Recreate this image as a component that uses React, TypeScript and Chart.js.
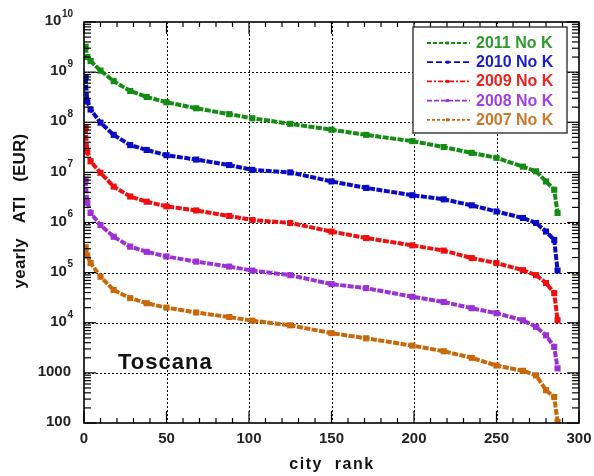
import { useEffect, useRef } from 'react';
import { Chart, registerables } from 'chart.js';

Chart.register(...registerables);

// ---- data ----
const ranks = [1, 2, 4, 10, 18, 28, 38, 50, 68, 88, 102, 125, 150, 171, 199, 218, 235, 250, 266, 274, 280, 285, 287];

const ati2011 = [3.2e9, 2.0e9, 1.66e9, 1.07e9, 6.6e8, 4.2e8, 3.2e8, 2.5e8, 1.9e8, 1.45e8, 1.2e8, 9.3e7, 7.1e7, 5.6e7, 4.2e7, 3.2e7, 2.45e7, 1.95e7, 1.3e7, 1.05e7, 6.6e6, 4.5e6, 1.55e6];
const ati2010 = [7.9e8, 2.6e8, 1.8e8, 9.8e7, 5.6e7, 3.5e7, 2.8e7, 2.2e7, 1.8e7, 1.4e7, 1.12e7, 1.0e7, 6.6e6, 4.9e6, 3.5e6, 2.9e6, 2.2e6, 1.66e6, 1.23e6, 9.8e5, 6.6e5, 4.5e5, 1.1e5];
const ati2009 = [7.9e7, 2.6e7, 1.66e7, 9.8e6, 5.2e6, 3.3e6, 2.6e6, 2.1e6, 1.74e6, 1.35e6, 1.12e6, 9.8e5, 6.6e5, 4.9e5, 3.5e5, 2.75e5, 1.95e5, 1.55e5, 1.12e5, 8.9e4, 6.2e4, 3.9e4, 1.12e4];
const ati2008 = [7.1e6, 2.5e6, 1.55e6, 8.9e5, 5.2e5, 3.3e5, 2.6e5, 2.1e5, 1.66e5, 1.32e5, 1.1e5, 8.9e4, 5.9e4, 4.9e4, 3.3e4, 2.6e4, 1.95e4, 1.55e4, 1.12e4, 8.3e3, 5.6e3, 3.3e3, 1.23e3];
const ati2007 = [3.2e5, 2.2e5, 1.55e5, 8.3e4, 4.5e4, 3.1e4, 2.45e4, 2.0e4, 1.6e4, 1.3e4, 1.1e4, 8.9e3, 6.2e3, 4.9e3, 3.5e3, 2.7e3, 2.0e3, 1.4e3, 1.1e3, 890, 450, 330, 105];

const seriesLabels = ['2011 No K', '2010 No K', '2009 No K', '2008 No K', '2007 No K'];
const seriesValues = [ati2011, ati2010, ati2009, ati2008, ati2007];
const lineColors = ['#148c14', '#0a0ac4', '#ee1010', '#9a30d6', '#c8680a'];
const textColors = ['#2e9a2e', '#1e1ec8', '#ee2020', '#a040e0', '#c87828'];
const dashes = [[4, 2], [6, 3], [5, 2, 2, 2], [5, 2], [3, 2]];

const xTickValues = [0, 50, 100, 150, 200, 250, 300];
const yExponents = [2, 3, 4, 5, 6, 7, 8, 9, 10];
const regionLabel = 'Toscana';
const xTitle = 'city  rank';
const yTitle = 'yearly   ATI   (EUR)';

const FONT = '"Liberation Sans", Arial, sans-serif';

const framePlugin = {
  id: 'frame',
  beforeDatasetsDraw(chart: any) {
    const { ctx, chartArea: a, scales } = chart;
    const xs = scales.x;
    const ys = scales.y;
    ctx.save();
    ctx.strokeStyle = '#000';
    ctx.lineWidth = 1;
    ctx.setLineDash([2, 2]);
    for (const v of xTickValues) {
      if (v === 0 || v === 300) continue;
      const px = Math.round(xs.getPixelForValue(v)) + 0.5;
      ctx.beginPath();
      ctx.moveTo(px, a.top);
      ctx.lineTo(px, a.bottom);
      ctx.stroke();
    }
    for (const e of yExponents) {
      if (e === 2 || e === 10) continue;
      const py = Math.round(ys.getPixelForValue(Math.pow(10, e))) + 0.5;
      ctx.beginPath();
      ctx.moveTo(a.left, py);
      ctx.lineTo(a.right, py);
      ctx.stroke();
    }
    ctx.restore();
  },
  afterDatasetsDraw(chart: any) {
    const { ctx, chartArea: a, scales } = chart;
    const xs = scales.x;
    const ys = scales.y;
    ctx.save();
    const seg = (x1: number, y1: number, x2: number, y2: number) => {
      ctx.beginPath();
      ctx.moveTo(x1, y1);
      ctx.lineTo(x2, y2);
      ctx.stroke();
    };
    ctx.strokeStyle = '#000';
    ctx.setLineDash([]);
    // ticks x
    ctx.lineWidth = 1.2;
    for (let v = 0; v <= 300; v += 10) {
      const px = xs.getPixelForValue(v);
      const len = v % 50 === 0 ? 12 : 5;
      seg(px, a.bottom, px, a.bottom - len);
      seg(px, a.top, px, a.top + len);
    }
    // ticks y
    for (let e = 2; e <= 10; e++) {
      for (let m = 1; m <= 9; m++) {
        const v = m * Math.pow(10, e);
        if (v > 1e10) break;
        const py = ys.getPixelForValue(v);
        const len = m === 1 ? 12 : 7;
        seg(a.left, py, a.left + len, py);
        seg(a.right, py, a.right - len, py);
      }
    }
    // frame
    ctx.lineWidth = 1.6;
    ctx.strokeRect(a.left, a.top, a.right - a.left, a.bottom - a.top);

    // x tick labels
    ctx.fillStyle = '#222';
    ctx.font = `bold 15px ${FONT}`;
    ctx.textAlign = 'center';
    ctx.textBaseline = 'middle';
    for (const v of xTickValues) {
      ctx.fillText(String(v), xs.getPixelForValue(v), 439);
    }
    // y tick labels
    for (const e of yExponents) {
      const py = ys.getPixelForValue(Math.pow(10, e)) - 1;
      ctx.textBaseline = 'middle';
      if (e <= 3) {
        ctx.font = `bold 15px ${FONT}`;
        ctx.textAlign = 'right';
        ctx.fillText(String(Math.pow(10, e)), 71, py);
      } else {
        ctx.font = `bold 10px ${FONT}`;
        const expStr = String(e);
        const ew = ctx.measureText(expStr).width;
        ctx.textAlign = 'left';
        ctx.fillText(expStr, 73 - ew, py - 7);
        ctx.font = `bold 15px ${FONT}`;
        ctx.textAlign = 'right';
        ctx.fillText('10', 73 - ew - 0.5, py);
      }
    }
    // axis titles
    ctx.fillStyle = '#111';
    ctx.font = `bold 16px ${FONT}`;
    ctx.textAlign = 'center';
    ctx.textBaseline = 'middle';
    (ctx as any).letterSpacing = '1.5px';
    ctx.fillText(xTitle, 332, 465);
    ctx.save();
    ctx.translate(20, 211);
    ctx.rotate(-Math.PI / 2);
    ctx.font = `bold 17px ${FONT}`;
    (ctx as any).letterSpacing = '0.2px';
    ctx.fillText(yTitle, 0, 0);
    ctx.restore();
    (ctx as any).letterSpacing = '0px';

    // region label
    ctx.font = `bold 22px ${FONT}`;
    ctx.textAlign = 'left';
    ctx.textBaseline = 'alphabetic';
    ctx.fillStyle = '#111';
    (ctx as any).letterSpacing = '1px';
    ctx.fillText(regionLabel, 118, 369);
    (ctx as any).letterSpacing = '0px';

    // legend box
    const bx = 413, by = 27, bw = 154, bh = 106;
    ctx.fillStyle = '#fff';
    ctx.fillRect(bx, by, bw, bh);
    ctx.strokeStyle = '#333';
    ctx.lineWidth = 1.4;
    ctx.strokeRect(bx, by, bw, bh);
    seriesLabels.forEach((lab, i) => {
      const ry = 43 + i * 19.2;
      ctx.strokeStyle = lineColors[i];
      ctx.lineWidth = 1.8;
      ctx.setLineDash(dashes[i]);
      seg(427, ry, 470, ry);
      ctx.setLineDash([]);
      ctx.fillStyle = lineColors[i];
      ctx.fillRect(446, ry - 1.5, 3, 3);
      ctx.fillStyle = textColors[i];
      ctx.font = `bold 16px ${FONT}`;
      ctx.textAlign = 'left';
      ctx.textBaseline = 'middle';
      ctx.fillText(lab, 476, ry + 0.5);
    });
    ctx.restore();
  },
};

export default function App() {
  const ref = useRef<HTMLCanvasElement | null>(null);
  useEffect(() => {
    if (!ref.current) return;
    const chart = new Chart(ref.current, {
      type: 'line',
      data: {
        datasets: seriesLabels.map((lab, i) => ({
          label: lab,
          data: ranks.map((r, j) => ({ x: r, y: seriesValues[i][j] })),
          borderColor: lineColors[i],
          backgroundColor: lineColors[i],
          borderWidth: 4,
          borderDash: [6, 1.5],
          pointRadius: 1.5,
          pointStyle: 'rect',
          tension: 0,
          fill: false,
        })),
      },
      options: {
        animation: false,
        responsive: false,
        maintainAspectRatio: false,
        layout: { padding: { left: 84, right: 15, top: 22, bottom: 53 } },
        plugins: { legend: { display: false }, tooltip: { enabled: false } },
        scales: {
          x: { type: 'linear', min: 0, max: 300, display: false },
          y: { type: 'logarithmic', min: 100, max: 1e10, display: false },
        },
      },
      plugins: [framePlugin],
    });
    return () => chart.destroy();
  }, []);
  return (
    <div style={{ position: 'fixed', left: 0, top: 0, width: 594, height: 476, background: '#fff' }}>
      <canvas ref={ref} width={594} height={476} />
    </div>
  );
}
